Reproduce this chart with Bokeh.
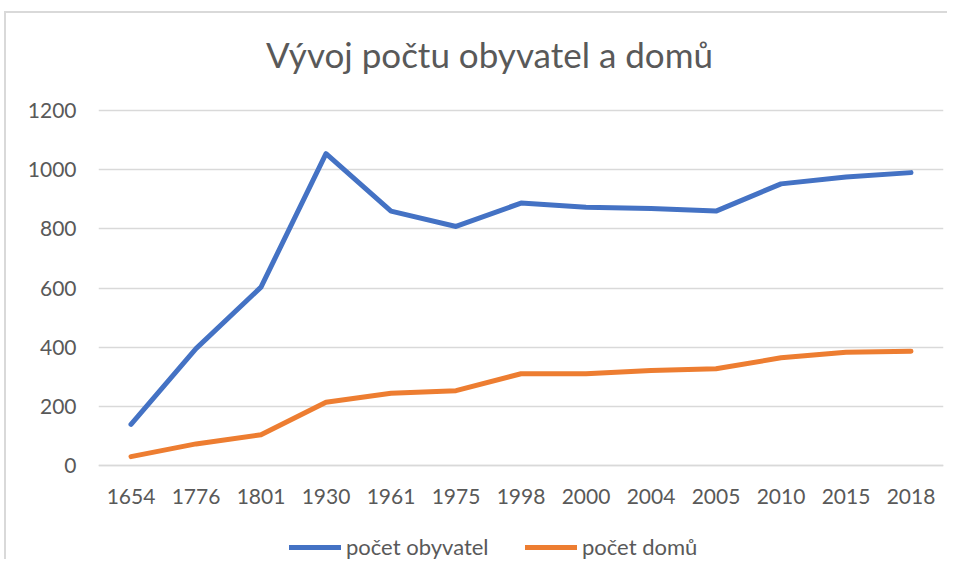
from bokeh.plotting import figure
from bokeh.models import FactorRange, Range1d, FixedTicker, Legend, LegendItem, Label
from bokeh.embed import file_html
from bokeh.resources import INLINE

years = ["1654", "1776", "1801", "1930", "1961", "1975", "1998", "2000", "2004", "2005", "2010", "2015", "2018"]
obyvatel = [139, 395, 603, 1054, 860, 808, 887, 873, 869, 860, 952, 975, 990]
domu = [30, 73, 104, 214, 244, 253, 310, 310, 321, 327, 364, 383, 386]
y_ticks = [0, 200, 400, 600, 800, 1000, 1200]
title_text = "Vývoj počtu obyvatel a domů"
series_names = ["počet obyvatel", "počet domů"]

FONT = "Lato"
TXT = "#595959"
GRID = "#D9D9D9"

# frame covers the whole canvas height; the value axis spans 0..1200 in the ticks
p = figure(width=943, height=548, output_backend="svg", toolbar_location=None,
           x_range=FactorRange(*years, range_padding=0), y_range=Range1d(-324.5, 1527.9),
           min_border_left=92, min_border_right=6, min_border_top=0, min_border_bottom=0,
           styles={"border-left": "2px solid #D9D9D9", "border-top": "2px solid #D9D9D9",
                   "margin-left": "4px", "margin-top": "11px"})

p.outline_line_color = None
p.xgrid.grid_line_color = None
p.ygrid.grid_line_color = GRID
p.ygrid.grid_line_width = 1.5
p.yaxis.ticker = FixedTicker(ticks=y_ticks)

for ax in (p.xaxis[0], p.yaxis[0]):
    ax.major_tick_line_color = None
    ax.minor_tick_line_color = None
    ax.major_tick_out = 0
    ax.major_tick_in = 0
    ax.major_label_text_font = FONT
    ax.major_label_text_font_size = "21px"
    ax.major_label_text_color = TXT
p.yaxis.axis_line_color = None
p.yaxis.major_label_standoff = 22
p.xaxis.fixed_location = 0
p.xaxis.axis_line_color = GRID
p.xaxis.axis_line_width = 1.5
p.xaxis.major_label_standoff = 23

r1 = p.line(years, obyvatel, line_color="#4472C4", line_width=5, line_join="round", line_cap="round")
r2 = p.line(years, domu, line_color="#ED7D31", line_width=5, line_join="round", line_cap="round")

p.add_layout(Label(x=6.015, y=1392, text=title_text, text_align="center", text_baseline="middle",
                   text_font=FONT, text_font_size="35px", text_color=TXT))

legend = Legend(items=[LegendItem(label=series_names[0], renderers=[r1]),
                       LegendItem(label=series_names[1], renderers=[r2])],
                orientation="horizontal", location=(191, 1),
                glyph_width=52, glyph_height=20, label_standoff=5, label_width=168, spacing=11,
                padding=0, margin=0, border_line_color=None, background_fill_alpha=0,
                label_text_font=FONT, label_text_font_size="22px", label_text_color=TXT)
p.add_layout(legend, "center")

open("out.html", "w").write(file_html(p, INLINE))
